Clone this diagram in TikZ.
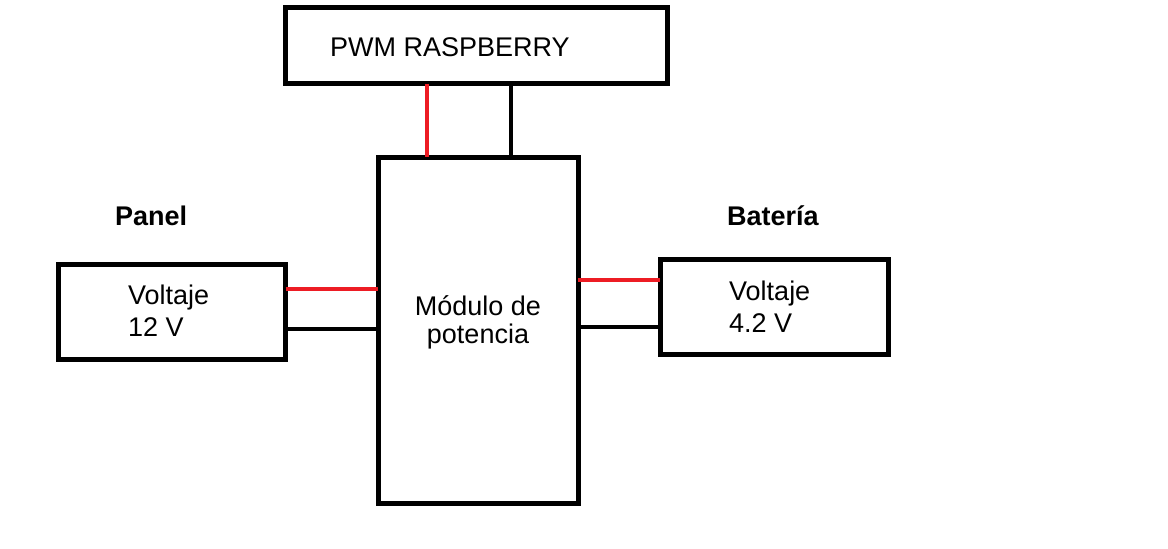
\documentclass[tikz,border=0pt]{standalone}
\usepackage{fontspec}
\setmainfont{Liberation Sans}
\usetikzlibrary{positioning}
\definecolor{wirered}{RGB}{237,28,36}

\begin{document}
\begin{tikzpicture}[x=1pt, y=-1pt,
	block/.style = {draw, line width=5pt, inner sep=0pt, outer sep=0pt},
	txt/.style = {inner sep=0pt, font=\fontsize{27}{32}\selectfont},
	heading/.style = {txt, anchor=base west, font=\fontsize{27}{32}\selectfont\bfseries},
	redwire/.style = {draw=wirered, line width=4pt},
	blackwire/.style = {draw=black, line width=4.5pt}]
\useasboundingbox (0,0) rectangle (1168,549);

% blocks
\node[block, minimum width=381.5pt, minimum height=76pt]  (pwm)     at (476.25,45.5) {};
\node[block, minimum width=200pt, minimum height=346pt]   (module)  at (478,330)     {};
\node[block, minimum width=227.5pt, minimum height=95pt]  (panel)   at (171.75,312)  {};
\node[block, minimum width=228pt, minimum height=95pt]    (battery) at (774,307)     {};

% texts (multi-line nodes sit on their last baseline)
\node[txt, anchor=base west]                (pwm text)     at (330,56)  {PWM RASPBERRY};
\node[heading]                              (panel head)   at (115,225) {Panel};
\node[heading]                              (battery head) at (727,225) {Batería};
\node[txt, anchor=base west, align=left]    (panel text)   at (128,336) {Voltaje\\12 V};
\node[txt, anchor=base west, align=left]    (battery text) at (729,332) {Voltaje\\4.2 V};
\node[txt, anchor=base, align=center, font=\fontsize{27}{28}\selectfont]
                                            (module text)  at (478,343) {Módulo de\\potencia};

% wires
\coordinate (red top)   at (427,0);
\coordinate (black top) at (511,0);
\coordinate (red left)    at (0,288.5);
\coordinate (black left)  at (0,329);
\coordinate (red right)   at (0,280);
\coordinate (black right) at (0,327);

\draw[redwire]   (pwm.south -| red top)   -- (module.north -| red top);
\draw[blackwire] (pwm.south -| black top) -- (module.north -| black top);
\draw[redwire]   (panel.east |- red left)   -- (module.west |- red left);
\draw[blackwire] (panel.east |- black left) -- (module.west |- black left);
\draw[redwire]   (module.east |- red right)   -- (battery.west |- red right);
\draw[blackwire] (module.east |- black right) -- (battery.west |- black right);

\end{tikzpicture}
\end{document}
